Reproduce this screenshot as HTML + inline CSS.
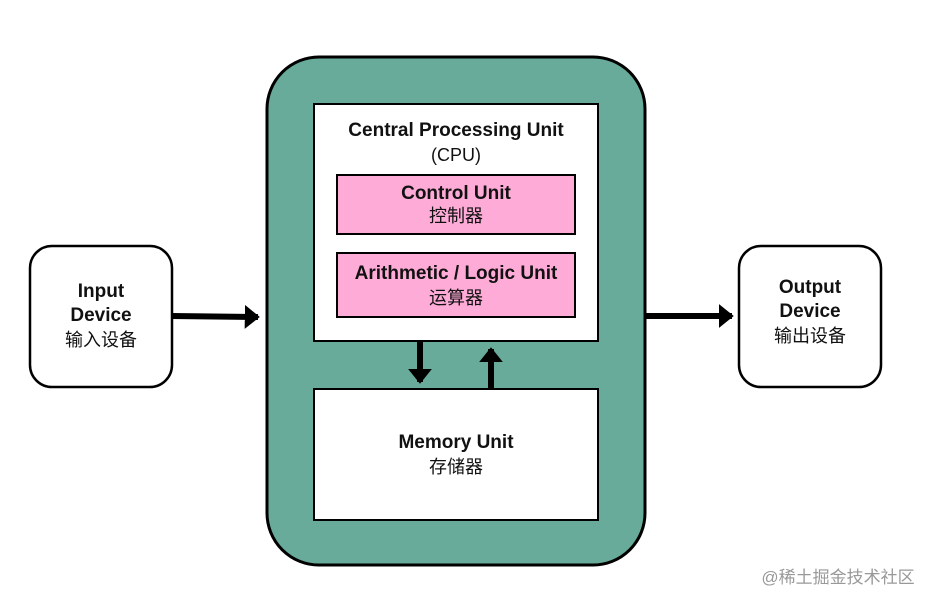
<!DOCTYPE html>
<html><head><meta charset="utf-8"><style>
body{margin:0;background:#fff;width:937px;height:605px;overflow:hidden;}
svg text{font-family:"Comic Sans MS","Liberation Sans","Noto Sans CJK SC",sans-serif;}
</style></head><body>
<svg width="937" height="605" viewBox="0 0 937 605" xmlns="http://www.w3.org/2000/svg">
<defs><marker id="ah" markerWidth="4" markerHeight="4" refX="2.2" refY="2" orient="auto" markerUnits="strokeWidth"><path d="M0,0 L2.5,2 L0,4 z" fill="#000"/></marker></defs>
<rect x="267" y="57" width="378" height="508" rx="52" fill="#68ab9a" stroke="#000" stroke-width="3"/>
<rect x="314" y="104" width="284" height="237" fill="#fff" stroke="#000" stroke-width="2"/>
<rect x="337" y="175" width="238" height="59" fill="#ffabd7" stroke="#000" stroke-width="2"/>
<rect x="337" y="253" width="238" height="64" fill="#ffabd7" stroke="#000" stroke-width="2"/>
<rect x="314" y="389" width="284" height="131" fill="#fff" stroke="#000" stroke-width="2"/>
<rect x="30" y="246" width="142" height="141" rx="22" fill="#fff" stroke="#000" stroke-width="2.5"/>
<rect x="739" y="246" width="142" height="141" rx="22" fill="#fff" stroke="#000" stroke-width="2.5"/>
<line x1="172" y1="316" x2="258" y2="317" stroke="#000" stroke-width="6" marker-end="url(#ah)"/>
<line x1="645" y1="316" x2="732" y2="316" stroke="#000" stroke-width="6" marker-end="url(#ah)"/>
<line x1="420" y1="342" x2="420" y2="382" stroke="#000" stroke-width="6" marker-end="url(#ah)"/>
<line x1="491" y1="389" x2="491" y2="349" stroke="#000" stroke-width="6" marker-end="url(#ah)"/>
<g font-weight="bold" font-size="19" text-anchor="middle" fill="#111">
<text x="456" y="136">Central Processing Unit</text>
<text x="456" y="199">Control Unit</text>
<text x="456" y="279">Arithmetic / Logic Unit</text>
<text x="456" y="448">Memory Unit</text>
<text x="101" y="297">Input</text>
<text x="101" y="321">Device</text>
<text x="810" y="293">Output</text>
<text x="810" y="317">Device</text>
</g>
<g font-size="18" text-anchor="middle" fill="#111">
<text x="456" y="161">(CPU)</text>
<text x="456" y="222">控制器</text>
<text x="456" y="304">运算器</text>
<text x="456" y="473">存储器</text>
<text x="101" y="346">输入设备</text>
<text x="810" y="342">输出设备</text>
</g>
<text x="838" y="583" font-size="17" text-anchor="middle" fill="#999">@稀土掘金技术社区</text>
</svg>
</body></html>
